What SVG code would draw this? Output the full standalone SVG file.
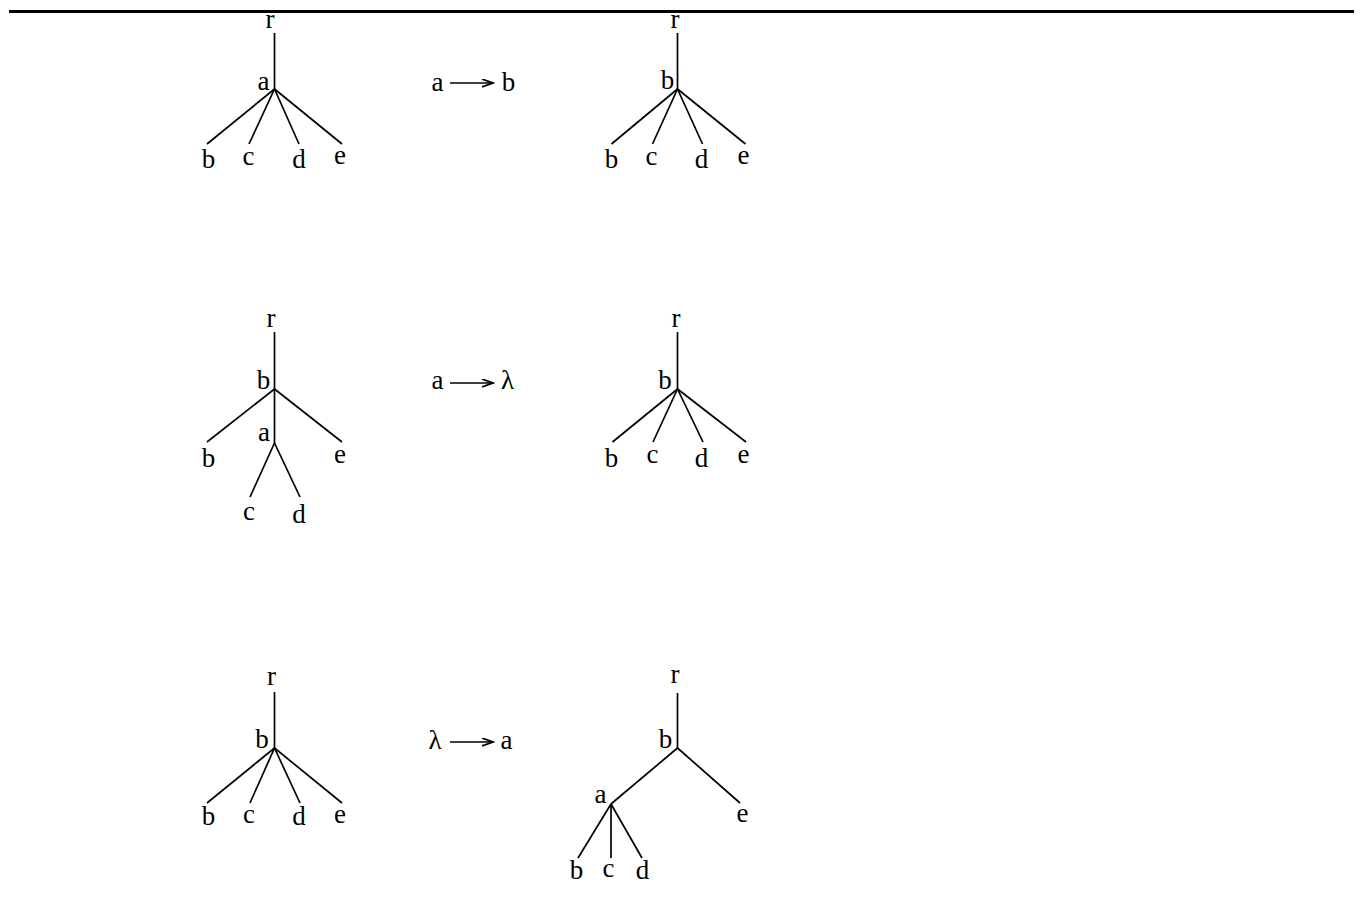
<svg xmlns="http://www.w3.org/2000/svg" width="1362" height="917" viewBox="0 0 1362 917">
<defs>
<style>
text{font-family:"Liberation Serif","Times New Roman",serif;font-size:27px;fill:#000;text-anchor:middle}
.e{stroke:#000;stroke-width:1.7;fill:none;stroke-linecap:butt}
.ar{stroke:#000;stroke-width:1.7;fill:none}
</style>
<marker id="ah" markerWidth="13" markerHeight="10" refX="11" refY="4.5" orient="auto" markerUnits="userSpaceOnUse">
<path d="M0,0.5 L11,4.5 L0,8.5" stroke="#000" stroke-width="1.7" fill="none"/>
</marker>
</defs>
<rect x="0" y="0" width="1362" height="917" fill="#fff"/>
<line x1="9" y1="11.5" x2="1354" y2="11.5" stroke="#000" stroke-width="3"/>

<g id="connectors">
<line class="e" x1="274.5" y1="33" x2="274.5" y2="89"/>
<line class="e" x1="274.5" y1="89" x2="207" y2="144"/>
<line class="e" x1="274.5" y1="89" x2="249" y2="144"/>
<line class="e" x1="274.5" y1="89" x2="299" y2="144"/>
<line class="e" x1="274.5" y1="89" x2="342" y2="144"/>
<line class="e" x1="677.5" y1="33" x2="677.5" y2="89"/>
<line class="e" x1="677.5" y1="89" x2="611.5" y2="144"/>
<line class="e" x1="677.5" y1="89" x2="652.5" y2="144"/>
<line class="e" x1="677.5" y1="89" x2="702.5" y2="144"/>
<line class="e" x1="677.5" y1="89" x2="745.5" y2="144"/>
<line class="e" x1="274.5" y1="332" x2="274.5" y2="389"/>
<line class="e" x1="274.5" y1="389" x2="274.5" y2="443"/>
<line class="e" x1="274.5" y1="389" x2="207" y2="442"/>
<line class="e" x1="274.5" y1="389" x2="342" y2="442"/>
<line class="e" x1="274.5" y1="443" x2="250" y2="497"/>
<line class="e" x1="274.5" y1="443" x2="300" y2="497"/>
<line class="e" x1="677.5" y1="332" x2="677.5" y2="389"/>
<line class="e" x1="677.5" y1="389" x2="612.5" y2="442"/>
<line class="e" x1="677.5" y1="389" x2="653" y2="442"/>
<line class="e" x1="677.5" y1="389" x2="703" y2="442"/>
<line class="e" x1="677.5" y1="389" x2="746" y2="442"/>
<line class="e" x1="274.5" y1="692" x2="274.5" y2="748"/>
<line class="e" x1="274.5" y1="748" x2="207" y2="803"/>
<line class="e" x1="274.5" y1="748" x2="250" y2="803"/>
<line class="e" x1="274.5" y1="748" x2="300" y2="803"/>
<line class="e" x1="274.5" y1="748" x2="342" y2="803"/>
<line class="e" x1="677.5" y1="693" x2="677.5" y2="748"/>
<line class="e" x1="677.5" y1="748" x2="740" y2="803"/>
<line class="e" x1="677.5" y1="748" x2="611" y2="804"/>
<line class="e" x1="611" y1="804" x2="578" y2="858"/>
<line class="e" x1="611" y1="804" x2="611" y2="858"/>
<line class="e" x1="611" y1="804" x2="642" y2="858"/>
<line class="ar" x1="450" y1="83" x2="493" y2="83" marker-end="url(#ah)"/>
<line class="ar" x1="450" y1="383" x2="493" y2="383" marker-end="url(#ah)"/>
<line class="ar" x1="450" y1="742" x2="493" y2="742" marker-end="url(#ah)"/>
</g>

<g id="tree1">
<g id="t1-r"><text x="270" y="28">r</text></g>
<g id="t1-a"><text x="263.5" y="90">a</text></g>
<g id="t1-b"><text x="208.5" y="168">b</text></g>
<g id="t1-c"><text x="248.5" y="165">c</text></g>
<g id="t1-d"><text x="299" y="168">d</text></g>
<g id="t1-e"><text x="340" y="164">e</text></g>
</g>

<g id="rule1">
<g id="r1-from"><text x="437.5" y="91">a</text></g>
<g id="r1-to"><text x="508.5" y="91">b</text></g>
</g>

<g id="tree2">
<g id="t2-r"><text x="675" y="28">r</text></g>
<g id="t2-b0"><text x="667.5" y="89">b</text></g>
<g id="t2-b"><text x="611.5" y="168">b</text></g>
<g id="t2-c"><text x="651.5" y="165">c</text></g>
<g id="t2-d"><text x="701.5" y="168">d</text></g>
<g id="t2-e"><text x="743.5" y="164">e</text></g>
</g>

<g id="tree3">
<g id="t3-r"><text x="271" y="327">r</text></g>
<g id="t3-b0"><text x="263.5" y="389">b</text></g>
<g id="t3-a"><text x="264" y="441">a</text></g>
<g id="t3-b"><text x="208.5" y="467">b</text></g>
<g id="t3-e"><text x="340" y="463">e</text></g>
<g id="t3-c"><text x="249" y="520">c</text></g>
<g id="t3-d"><text x="299" y="523">d</text></g>
</g>

<g id="rule2">
<g id="r2-from"><text x="437.5" y="389">a</text></g>
<g id="r2-to"><text x="507.5" y="389">λ</text></g>
</g>

<g id="tree4">
<g id="t4-r"><text x="676" y="327">r</text></g>
<g id="t4-b0"><text x="665" y="389">b</text></g>
<g id="t4-b"><text x="611.5" y="467">b</text></g>
<g id="t4-c"><text x="652.5" y="463">c</text></g>
<g id="t4-d"><text x="701.5" y="467">d</text></g>
<g id="t4-e"><text x="743.5" y="463">e</text></g>
</g>

<g id="tree5">
<g id="t5-r"><text x="271.5" y="685">r</text></g>
<g id="t5-b0"><text x="262" y="748">b</text></g>
<g id="t5-b"><text x="208.5" y="825">b</text></g>
<g id="t5-c"><text x="249" y="823">c</text></g>
<g id="t5-d"><text x="299" y="825">d</text></g>
<g id="t5-e"><text x="340" y="823">e</text></g>
</g>

<g id="rule3">
<g id="r3-from"><text x="435" y="749">λ</text></g>
<g id="r3-to"><text x="506.5" y="749">a</text></g>
</g>

<g id="tree6">
<g id="t6-r"><text x="675" y="683">r</text></g>
<g id="t6-b0"><text x="665.5" y="748">b</text></g>
<g id="t6-a"><text x="600.5" y="803">a</text></g>
<g id="t6-e"><text x="742.5" y="822">e</text></g>
<g id="t6-b"><text x="576.5" y="879">b</text></g>
<g id="t6-c"><text x="608.5" y="877">c</text></g>
<g id="t6-d"><text x="642.5" y="879">d</text></g>
</g>
</svg>
